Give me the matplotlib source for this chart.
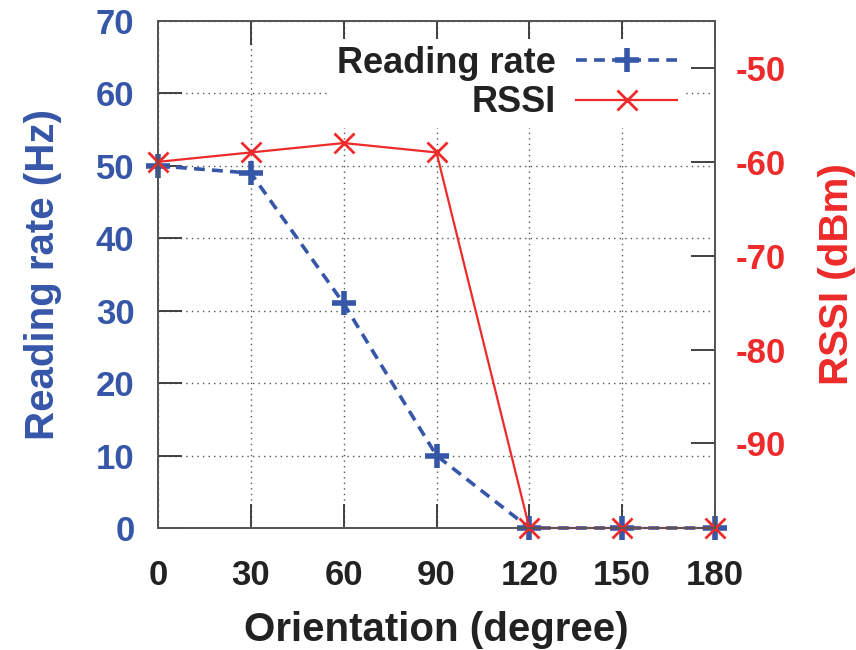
import matplotlib
matplotlib.use("Agg")
import matplotlib.pyplot as plt

plt.rcParams['font.family'] = ['Liberation Sans', 'DejaVu Sans']
plt.rcParams['font.weight'] = 'bold'
plt.rcParams['axes.unicode_minus'] = False

orientation = [0, 30, 60, 90, 120, 150, 180]
reading_rate = [50, 49, 31, 10, 0, 0, 0]
rssi = [-60, -59, -58, -59, -99, -99, -99]
xticks = [0, 30, 60, 90, 120, 150, 180]
left_ticks = [0, 10, 20, 30, 40, 50, 60, 70]
right_ticks = [-50, -60, -70, -80, -90]

BLUE = '#3656A8'
RED = '#EE2A2A'
TXT = '#222222'

fig = plt.figure(figsize=(8.56, 6.5), dpi=100)
ax = fig.add_axes([158/856, 1-528/650, 557/856, 507/650])
ax2 = ax.twinx()

ax.set_xlim(0, 180)
ax.set_ylim(0, 70)
ax2.set_ylim(-99, -45)

ax.set_xticks(xticks)
ax.set_yticks(left_ticks)
ax2.set_yticks(right_ticks)

ax.grid(True, color='#555555', linestyle=(0, (1, 3)), linewidth=1.0)
ax.set_axisbelow(True)

l1, = ax.plot(orientation, reading_rate, color=BLUE, linestyle=(0, (3, 2)), linewidth=2.6,
              marker='+', markersize=17, markeredgewidth=4, clip_on=False)
l2, = ax2.plot(orientation, rssi, color=RED, linestyle='-', linewidth=1.6,
               marker='x', markersize=14, markeredgewidth=2, clip_on=False)

for a in (ax, ax2):
    for s in a.spines.values():
        s.set_color('#555555')
        s.set_linewidth(1.3)

ax.tick_params(axis='x', direction='in', length=17, width=1.3, color='#333333',
               top=True, labelsize=25, labelcolor=TXT, pad=22)
ax.tick_params(axis='y', direction='in', length=17, width=1.3, color='#333333',
               right=False, labelsize=25, labelcolor=BLUE, pad=17)
ax2.tick_params(axis='y', direction='in', length=17, width=1.3, color='#333333',
                labelsize=25, labelcolor=RED, pad=15)
for lab in ax.get_xticklabels() + ax.get_yticklabels() + ax2.get_yticklabels():
    lab.set_fontweight('bold')

ax.set_xlabel('Orientation (degree)', fontsize=29, fontweight='bold', color=TXT, labelpad=14)
ax.set_ylabel('Reading rate (Hz)', fontsize=29, fontweight='bold', color=BLUE, labelpad=24)
ax2.set_ylabel('RSSI (dBm)', fontsize=29, fontweight='bold', color=RED, labelpad=23)

leg = ax2.legend([l1, l2], ['Reading rate', 'RSSI'], loc='upper right',
                 bbox_to_anchor=(0.945, 0.965), borderaxespad=0, markerfirst=False,
                 frameon=True, fancybox=False, framealpha=1, edgecolor='none',
                 facecolor='white', prop={'size': 26, 'weight': 'bold'},
                 handlelength=2.8, handletextpad=0.55, labelspacing=0.12, borderpad=0.2)
for t in leg.get_texts():
    t.set_color(TXT)

fig.savefig('out.png', dpi=100)
